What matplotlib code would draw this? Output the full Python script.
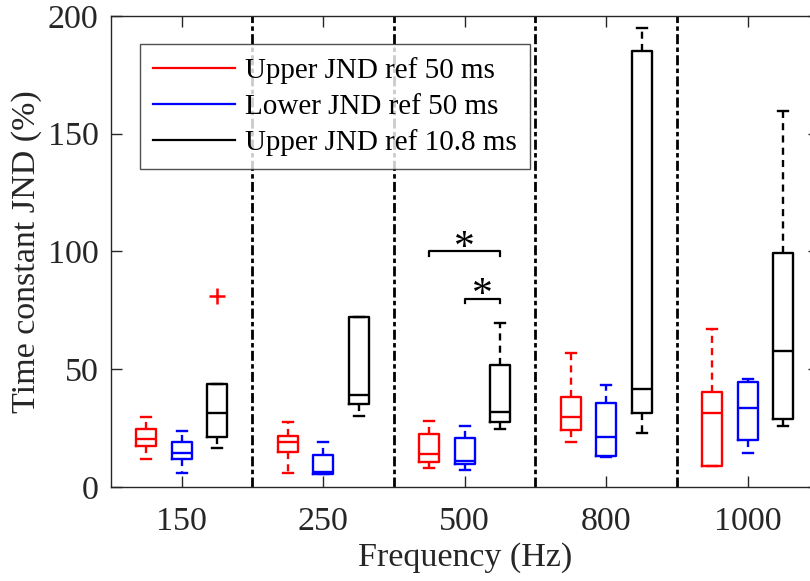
#!/usr/bin/env python3
# Box plots of time constant JND per frequency, MATLAB-like look
import numpy as np
import matplotlib
matplotlib.use("Agg")
import matplotlib.pyplot as plt

# =============================================================================
# Data
# =============================================================================
freqs = ["150", "250", "500", "800", "1000"]
labels = ["Upper JND ref 50 ms", "Lower JND ref 50 ms", "Upper JND ref 10.8 ms"]
colors = ["#ff0000", "#0000ff", "#000000"]

# per series: whisker low, q1, median, q3, whisker high
up50_lo = [11.9, 5.8, 7.9, 19.2, 9.0]
up50_q1 = [17.5, 15.0, 10.5, 24.2, 9.0]
up50_med = [20.2, 19.2, 14.0, 29.6, 31.3]
up50_q3 = [24.5, 21.7, 22.4, 38.3, 40.5]
up50_hi = [29.6, 27.7, 28.2, 57.0, 67.0]

lo50_lo = [5.8, 5.5, 7.2, 12.6, 14.3]
lo50_q1 = [11.9, 5.5, 9.6, 13.3, 20.0]
lo50_med = [14.3, 6.2, 11.2, 21.1, 33.4]
lo50_q3 = [19.2, 13.6, 20.9, 35.5, 44.7]
lo50_hi = [23.9, 19.2, 26.0, 43.3, 45.7]

up108_lo = [16.4, 30.1, 24.8, 22.8, 25.9]
up108_q1 = [21.4, 35.2, 27.5, 31.3, 28.7]
up108_med = [31.3, 39.1, 31.8, 41.5, 57.7]
up108_q3 = [43.7, 72.3, 51.8, 185.3, 99.5]
up108_hi = [43.7, 72.3, 69.5, 195.0, 159.7]
up108_fliers = [[81.0], [], [], [], []]

# significance brackets at 500 Hz: (series a, series b, height)
sig_pairs = [(0, 2, 100.0), (1, 2, 80.0)]

series = [
    (up50_lo, up50_q1, up50_med, up50_q3, up50_hi, [[], [], [], [], []]),
    (lo50_lo, lo50_q1, lo50_med, lo50_q3, lo50_hi, [[], [], [], [], []]),
    (up108_lo, up108_q1, up108_med, up108_q3, up108_hi, up108_fliers),
]

# =============================================================================
# Plotting
# =============================================================================
plt.rcParams["font.family"] = ["Liberation Serif", "DejaVu Serif"]
axcol = "#262626"

fig = plt.figure(figsize=(8.1, 5.81), dpi=100)
ax = fig.add_axes([0.137, 0.1618, 0.8735, 0.8107])

x = np.arange(1, len(freqs) + 1)
offsets = [-0.25, 0.0, 0.25]
lw = 1.7

for k, (lo, q1, med, q3, hi, fl) in enumerate(series):
    stats = []
    for i in range(len(freqs)):
        stats.append(dict(whislo=lo[i], q1=q1[i], med=med[i], q3=q3[i],
                          whishi=hi[i], fliers=fl[i]))
    c = colors[k]
    ax.bxp(stats, positions=x + offsets[k], widths=0.14, capwidths=0.07,
           showfliers=True, manage_ticks=False,
           boxprops=dict(color=c, linewidth=lw),
           medianprops=dict(color=c, linewidth=lw),
           whiskerprops=dict(color=c, linewidth=lw, linestyle=(0, (3.0, 2.2))),
           capprops=dict(color=c, linewidth=lw),
           flierprops=dict(marker="+", markeredgecolor="#ff0000",
                           markersize=12, markeredgewidth=1.8))

# separators between frequencies
for xs in x[:-1] + 0.5:
    ax.plot([xs, xs], [0, 200], color="black", linewidth=2.0,
            linestyle=(0, (3.6, 1.2, 1.6, 1.2)))

# significance brackets at 500 Hz
g = 2
for a, b, h in sig_pairs:
    xa, xb = x[g] + offsets[a], x[g] + offsets[b]
    ax.plot([xa, xa, xb, xb], [h - 1.8, h, h, h - 1.8], color="black",
            linewidth=1.6)
    ax.text((xa + xb) / 2, h + 1.0, "*", ha="center", va="center",
            fontsize=30, color="black")

# legend handles
for k in range(3):
    ax.plot([], [], color=colors[k], linewidth=1.6, label=labels[k])
leg = ax.legend(loc="upper left", bbox_to_anchor=(0.041, 0.94), fontsize=21,
                frameon=True, fancybox=False, edgecolor=axcol,
                handlelength=2.8, handletextpad=0.35, borderpad=0.45,
                labelspacing=0.31, borderaxespad=0)
leg.get_frame().set_linewidth(1.0)

ax.set_xlim(0.5, 5.5)
ax.set_ylim(0, 200)
ax.set_xticks(x)
ax.set_xticklabels(freqs)
ax.set_yticks([0, 50, 100, 150, 200])
ax.tick_params(direction="in", length=8, width=1.0, colors=axcol,
               labelsize=24.5, top=True, right=True, pad=14)
ax.tick_params(axis="y", pad=9)
for sp in ax.spines.values():
    sp.set_color(axcol)
    sp.set_linewidth(1.0)

ax.set_xlabel("Frequency (Hz)", fontsize=24.5, color=axcol, labelpad=4)
ax.set_ylabel("Time constant JND (%)", fontsize=24.5, color=axcol, labelpad=4)

plt.savefig("out.png", dpi=100)
plt.close()
